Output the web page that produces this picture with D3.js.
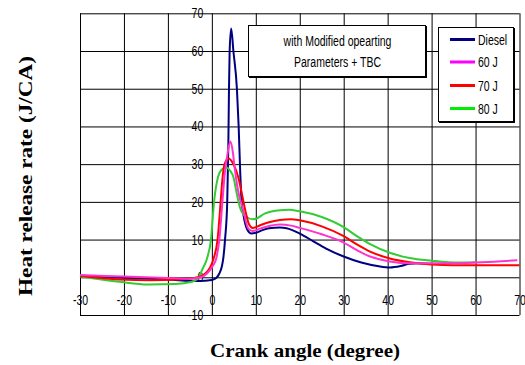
<!DOCTYPE html>
<html>
<head>
<meta charset="utf-8">
<script src="https://cdn.jsdelivr.net/npm/d3@7"></script>
<style>
  body { margin: 0; background: #fff; }
  svg { display: block; }
</style>
</head>
<body>
<svg id="chart" width="525" height="365"></svg>
<script>
// Axis ticks
const xTicks = [-30, -20, -10, 0, 10, 20, 30, 40, 50, 60, 70];
const yTicks = [-10, 0, 10, 20, 30, 40, 50, 60, 70];

// Heat release rate (J/CA) against crank angle (degree)
const dieselAngle = [-30, -20, -10, -3, 0, 1, 1.7, 2.3, 2.6, 3.0, 3.5, 3.75, 3.9, 4.05, 4.4, 4.9, 5.7, 6.1, 6.45, 6.75, 7.2, 8.0, 9.0, 10.0, 11.5, 13, 15.5, 17, 20, 23, 26, 30, 34, 38, 40.5, 43, 45, 47, 50];
const dieselHRR   = [0.3, -0.1, -0.6, -1.0, -0.7, -0.2, 1, 3, 5, 10, 20, 35, 50, 60, 66, 60, 50, 40, 28, 20.5, 16.5, 12.8, 11.6, 11.8, 12.5, 13.0, 13.2, 13.0, 11.6, 9.6, 7.6, 5.5, 3.9, 2.9, 2.6, 3.0, 3.6, 3.7, 3.5];

const j60Angle = [-30, -20, -10, -5, -2.5, -1.1, 0.2, 1.0, 1.7, 2.4, 2.9, 3.6, 4.2, 4.8, 5.1, 5.8, 7.2, 8.3, 9.3, 11, 13, 15.5, 18, 20, 25, 30, 33, 36, 40.5, 45, 50, 55, 60, 65, 69.5];
const j60HRR   = [0.6, 0.2, -0.2, -0.4, 0, 1, 3, 5, 10, 20, 27, 33, 36, 33, 30, 24, 17.5, 12.9, 12.3, 12.9, 13.6, 14.0, 13.7, 13.1, 11.4, 9.2, 7.2, 5.5, 4.2, 3.7, 3.7, 3.7, 3.9, 4.2, 4.5];

const j70Angle = [-30, -21, -14, -8, -4, -1.5, 0.4, 1.3, 2.0, 2.4, 2.9, 3.8, 4.9, 6.0, 7.6, 8.4, 9.3, 11, 13, 15.5, 18, 20, 25, 30, 33, 36, 40.5, 45, 50, 55, 60, 70];
const j70HRR   = [0.4, -0.6, -0.8, -0.6, -0.2, 1, 5, 10, 20, 26, 30, 31.5, 30, 26.6, 17.8, 14.2, 13.1, 13.8, 14.6, 15.2, 15.4, 15.1, 13.5, 10.9, 8.7, 6.8, 5.0, 4.0, 3.4, 3.2, 3.2, 3.2];

const j80Angle = [-30, -21, -14.5, -8.3, -4.5, -3, -2.2, -1.1, -0.2, 0.5, 1.4, 2.2, 3.25, 4.2, 4.9, 5.7, 6.4, 7.6, 9.3, 10.2, 12, 15.5, 17.5, 20, 25, 30, 33, 36, 40.5, 45, 50, 56, 60];
const j80HRR   = [0.2, -1.2, -1.9, -1.8, -1.2, 0, 2, 5, 10, 20, 26.6, 28.5, 29.1, 28.2, 26.6, 22, 18.5, 16.2, 15.4, 15.6, 16.9, 17.8, 17.9, 17.5, 16.0, 13.3, 10.9, 8.8, 6.5, 5.1, 4.4, 3.9, 4.0];

const seriesNames   = ["Diesel", "60 J", "70 J", "80 J"];
const seriesColors  = ["#000080", "#ff33cc", "#ff0000", "#33cc33"];
const swatchColors  = ["#000080", "#ff00ff", "#ff0000", "#00ee00"];
const seriesAngles  = [dieselAngle, j60Angle, j70Angle, j80Angle];
const seriesValues  = [dieselHRR, j60HRR, j70HRR, j80HRR];

const noteLines = ["with Modified opearting", "Parameters + TBC"];

const svg = d3.select("#chart");
const plotLeft = 80, plotRight = 519.5, plotTop = 13.3, plotBottom = 315;

const x = d3.scaleLinear().domain([-30, 70]).range([plotLeft, plotRight]);
const y = d3.scaleLinear().domain([-10, 70]).range([plotBottom, plotTop]);

const squeeze = "scale(0.75,1)";
const tickFont = "'Liberation Sans', Arial, sans-serif";
const plainNumber = d => String(d);

// Grid
const gridX = svg.append("g")
  .attr("transform", `translate(0,${plotBottom})`)
  .call(d3.axisBottom(x).tickValues(xTicks).tickSize(-(plotBottom - plotTop)).tickFormat(""));
const gridY = svg.append("g")
  .attr("transform", `translate(${plotLeft},0)`)
  .call(d3.axisLeft(y).tickValues(yTicks).tickSize(-(plotRight - plotLeft)).tickFormat(""));
[gridX, gridY].forEach(g => {
  g.select(".domain").remove();
  g.selectAll(".tick line").attr("stroke", "#000").attr("stroke-width", 1);
});

// Tick labels placed along the zero lines
const xLab = svg.append("g")
  .attr("transform", `translate(0,${y(0)})`)
  .call(d3.axisBottom(x).tickValues(xTicks).tickSize(0).tickPadding(18).tickFormat(plainNumber));
xLab.select(".domain").remove();
xLab.selectAll("text")
  .attr("transform", squeeze)
  .attr("font-family", tickFont).attr("font-size", 14).attr("fill", "#000");

const yLab = svg.append("g")
  .attr("transform", `translate(${x(0)},0)`)
  .call(d3.axisLeft(y).tickValues(yTicks).tickSize(0).tickFormat(plainNumber));
yLab.select(".domain").remove();
yLab.selectAll("text")
  .attr("x", -11.5)
  .attr("transform", squeeze)
  .attr("font-family", tickFont).attr("font-size", 14).attr("fill", "#000");

// Curves
const line = d3.line()
  .x(d => x(d[0]))
  .y(d => y(d[1]))
  .curve(d3.curveMonotoneX);

const drawOrder = [0, 3, 2, 1];
drawOrder.forEach(i => {
  const pts = seriesAngles[i].map((a, k) => [a, seriesValues[i][k]]);
  svg.append("path")
    .datum(pts)
    .attr("fill", "none")
    .attr("stroke", seriesColors[i])
    .attr("stroke-width", 2)
    .attr("stroke-linejoin", "round")
    .attr("d", line);
});

// Note box
const note = svg.append("g");
note.append("rect").attr("x", 249).attr("y", 26).attr("width", 178).attr("height", 52).attr("fill", "#000");
note.append("rect").attr("x", 248.5).attr("y", 25.5).attr("width", 177).attr("height", 51)
  .attr("fill", "#fff").attr("stroke", "#000").attr("stroke-width", 1);
noteLines.forEach((t, i) => {
  note.append("text")
    .attr("transform", `translate(337.5,${46 + i * 21}) ${squeeze}`)
    .attr("text-anchor", "middle")
    .attr("font-family", tickFont).attr("font-size", 14)
    .text(t);
});

// Legend
const legend = svg.append("g");
legend.append("rect").attr("x", 439).attr("y", 28).attr("width", 76).attr("height", 95).attr("fill", "#000");
legend.append("rect").attr("x", 438.5).attr("y", 27.5).attr("width", 75).attr("height", 94)
  .attr("fill", "#fff").attr("stroke", "#000").attr("stroke-width", 1);
const rowY = [39.5, 62, 85.5, 108.5];
seriesNames.forEach((name, i) => {
  legend.append("line")
    .attr("x1", 450).attr("x2", 475)
    .attr("y1", rowY[i]).attr("y2", rowY[i])
    .attr("stroke", swatchColors[i]).attr("stroke-width", 3);
  legend.append("text")
    .attr("transform", `translate(478,${rowY[i] + 5}) ${squeeze}`)
    .attr("font-family", tickFont).attr("font-size", 14)
    .text(name);
});

// Axis titles
const titleFont = "'Liberation Serif', 'Times New Roman', serif";
svg.append("text")
  .attr("x", 305).attr("y", 357)
  .attr("text-anchor", "middle")
  .attr("font-family", titleFont).attr("font-weight", "bold").attr("font-size", 19)
  .attr("textLength", 190).attr("lengthAdjust", "spacingAndGlyphs")
  .text("Crank angle (degree)");

svg.append("text")
  .attr("transform", "translate(32,176) rotate(-90)")
  .attr("text-anchor", "middle")
  .attr("font-family", titleFont).attr("font-weight", "bold").attr("font-size", 18)
  .attr("textLength", 240).attr("lengthAdjust", "spacingAndGlyphs")
  .text("Heat release rate  (J/CA)");
</script>
</body>
</html>
